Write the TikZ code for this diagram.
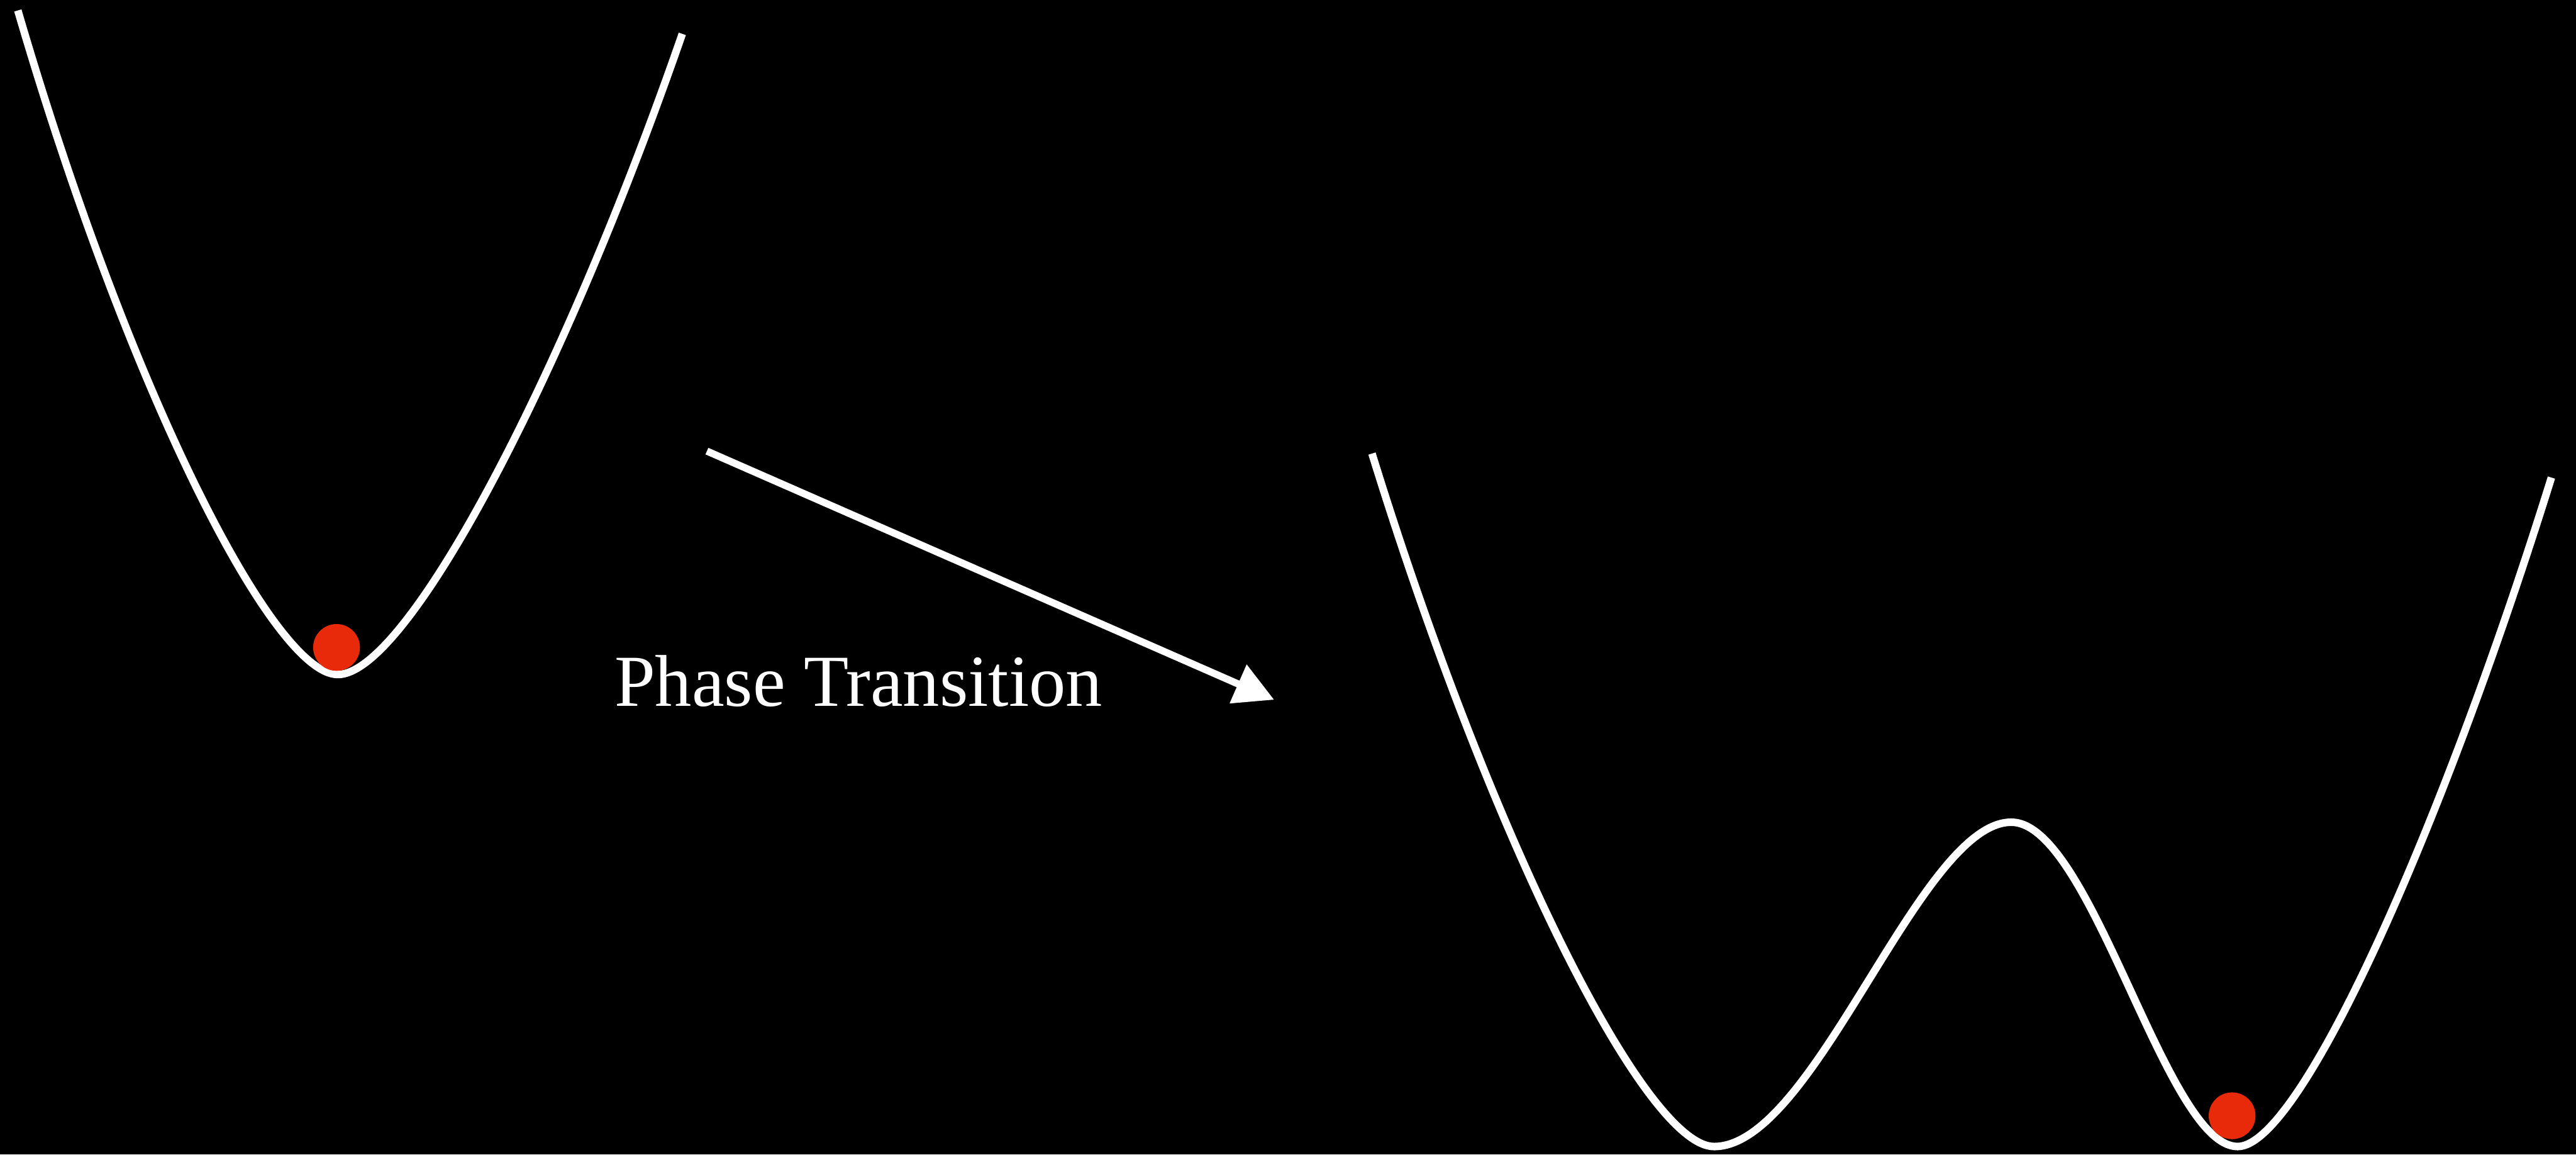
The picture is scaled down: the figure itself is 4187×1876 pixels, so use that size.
\documentclass[tikz,border=0pt]{standalone}
\usepackage{fontspec}
\setmainfont{Liberation Serif}
\usetikzlibrary{arrows.meta,positioning}
\definecolor{ballred}{RGB}{232,42,10}

\begin{document}
\begin{tikzpicture}[
  x=0.1mm, y=-0.1mm,
  >=Latex,
  curve/.style={draw=white, line width=3.5pt, line join=round},
  ball/.style={circle, fill=ballred, inner sep=0pt, minimum size=7.6mm},
  flow/.style={-{Triangle[length=6.4mm, width=6.6mm]}, draw=white, line width=3.3pt}
]
\fill[black] (0,0) rectangle (4187,1876);
\useasboundingbox (0,0) rectangle (4187,1876);

\draw[curve] (29,17) .. controls (211,640) and (445,1096) .. (549,1096)
  .. controls (661,1096) and (913,620) .. (1109,55);
\draw[curve] (2230,737) .. controls (2425,1368) and (2675,1863) .. (2786,1863)
  .. controls (2950,1863) and (3120,1336) .. (3269,1336)
  .. controls (3400,1336) and (3520,1863) .. (3637,1863)
  .. controls (3739,1863) and (3969,1347) .. (4147,776);

\node[ball] (ballLeft) at (547,1052) {};
\node[ball] (ballRight) at (3628,1813) {};

\coordinate (arrowStart) at (1149,733);
\coordinate (arrowTip) at (2071,1137);
\draw[flow] (arrowStart) -- (arrowTip);

\node[anchor=base west, text=white, inner sep=0pt, font=\fontsize{33.9}{40}\selectfont] (caption) at (998,1147) {Phase Transition};
\end{tikzpicture}
\end{document}
